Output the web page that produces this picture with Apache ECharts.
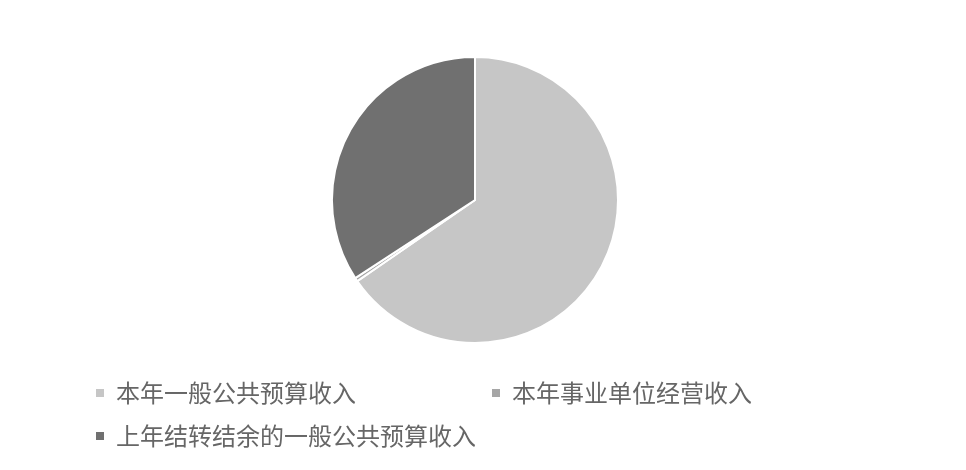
<!DOCTYPE html>
<html>
<head>
<meta charset="utf-8">
<script src="https://cdn.jsdelivr.net/npm/echarts@6/dist/echarts.min.js"></script>
<style>
html,body{margin:0;padding:0;background:#fff;}
#c{width:966px;height:470px;}
</style>
</head>
<body>
<div id="c"></div>
<script>
const categories = ['本年一般公共预算收入', '本年事业单位经营收入', '上年结转结余的一般公共预算收入'];
const values = [65.4, 0.4, 34.2];
const colors = ['#c6c6c6', '#a6a6a6', '#707070'];

const chart = echarts.init(document.getElementById('c'));
const legendPos = [[89, 376], [485, 376], [89, 419]];
const legendStyle = {
  icon: 'rect', itemWidth: 10, itemHeight: 10, itemGap: 0,
  textStyle: { fontSize: 24, color: '#666', fontFamily: 'Noto Sans CJK SC', padding: [0, 0, 0, 6] }
};
chart.setOption({
  animation: false,
  color: colors,
  legend: categories.map((c, i) => Object.assign({}, legendStyle, {
    data: [c], left: legendPos[i][0], top: legendPos[i][1], orient: 'horizontal'
  })),
  series: [{
    type: 'pie',
    center: [475, 200],
    radius: 143,
    startAngle: 90,
    clockwise: true,
    label: { show: false },
    labelLine: { show: false },
    itemStyle: { borderColor: '#fff', borderWidth: 2 },
    data: categories.map((c, i) => ({ name: c, value: values[i] }))
  }]
});
</script>
</body>
</html>
